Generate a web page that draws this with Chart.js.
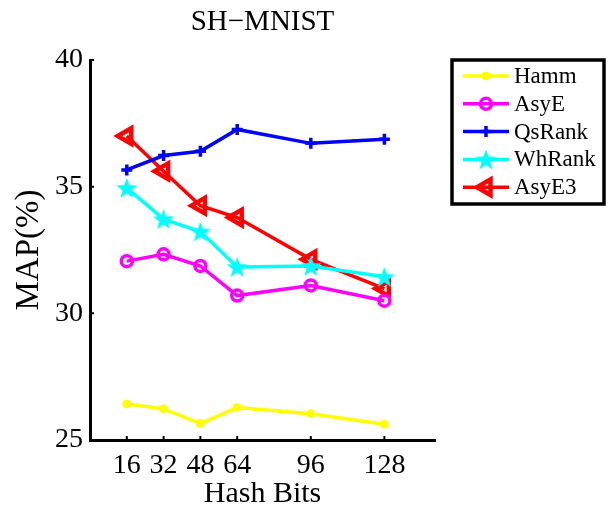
<!DOCTYPE html>
<html>
<head>
<meta charset="utf-8">
<script src="https://cdn.jsdelivr.net/npm/chart.js@4/dist/chart.umd.min.js"></script>
<style>
  html, body { margin: 0; padding: 0; background: #fff; }
  #wrap { width: 611px; height: 506px; }
</style>
</head>
<body>
<div id="wrap"><canvas id="c"></canvas></div>
<script>
// values
var hashBits = [16, 32, 48, 64, 96, 128];
var hamm   = [26.42, 26.23, 25.65, 26.28, 26.04, 25.62];
var asyE   = [32.06, 32.33, 31.87, 30.70, 31.10, 30.50];
var qsRank = [35.66, 36.23, 36.40, 37.26, 36.71, 36.87];
var whRank = [34.95, 33.72, 33.23, 31.83, 31.87, 31.44];
var asyE3  = [37.00, 35.61, 34.25, 33.78, 32.13, 30.98];
var yTicks = [25, 30, 35, 40];

var serif = "'Liberation Serif', 'Times New Roman', serif";

// filled five-point star, matlab 'p' style
function makeStar(color, size) {
    var cv = document.createElement('canvas');
    cv.width = size; cv.height = size;
    var g = cv.getContext('2d');
    var cx = size / 2, cy = size / 2 + 1, ro = size / 2, ri = ro * 0.42;
    g.beginPath();
    for (var i = 0; i < 10; i++) {
        var r = i % 2 ? ri : ro;
        var a = -Math.PI / 2 + i * Math.PI / 5;
        g.lineTo(cx + r * Math.cos(a), cy + r * Math.sin(a));
    }
    g.closePath();
    g.fillStyle = color;
    g.fill();
    return cv;
}
var starImg = makeStar('#00FFFF', 22);

function pts(vals) {
    return vals.map(function(v, i) { return { x: hashBits[i], y: v }; });
}

// box legend on the right with line samples
var boxLegend = {
    id: 'boxLegend',
    afterDraw: function(chart) {
        var ctx = chart.ctx;
        ctx.save();
        ctx.lineWidth = 3.5;
        ctx.strokeStyle = '#000';
        ctx.strokeRect(452, 60, 152, 144);
        var y0 = 76, dy = 27.8;
        chart.data.datasets.forEach(function(ds, i) {
            var y = y0 + i * dy;
            ctx.strokeStyle = ds.borderColor;
            ctx.lineWidth = 3.5;
            ctx.beginPath();
            ctx.moveTo(463, y); ctx.lineTo(509, y);
            ctx.stroke();
            var ps = ds.pointStyle;
            if (ps instanceof HTMLCanvasElement) {
                ctx.drawImage(ps, 486 - ps.width / 2, y - ps.height / 2);
            } else {
                ctx.fillStyle = ds.pointBackgroundColor;
                ctx.lineWidth = ds.pointBorderWidth;
                Chart.helpers.drawPoint(ctx, {
                    pointStyle: ps,
                    radius: ds.pointRadius,
                    rotation: ds.pointRotation || 0,
                    borderWidth: ds.pointBorderWidth
                }, 486, y);
            }
            ctx.fillStyle = '#000';
            ctx.font = '23px ' + serif;
            ctx.textBaseline = 'middle';
            ctx.fillText(ds.label, 514, y + 1);
        });
        ctx.restore();
    }
};

// matlab style inward tick marks
var innerTicks = {
    id: 'innerTicks',
    afterDraw: function(chart) {
        var ctx = chart.ctx, a = chart.chartArea;
        var xs = chart.scales.x, ys = chart.scales.y;
        ctx.save();
        ctx.strokeStyle = '#000';
        ctx.lineWidth = 2;
        ctx.beginPath();
        hashBits.forEach(function(b) {
            var px = xs.getPixelForValue(b);
            ctx.moveTo(px, a.bottom); ctx.lineTo(px, a.bottom - 4);
        });
        yTicks.forEach(function(t) {
            var py = ys.getPixelForValue(t);
            ctx.moveTo(a.left, py); ctx.lineTo(a.left + 4, py);
        });
        ctx.stroke();
        ctx.restore();
    }
};

new Chart(document.getElementById('c'), {
    type: 'line',
    data: {
        datasets: [
            {
                label: 'Hamm', data: pts(hamm),
                borderColor: '#FFFF00', backgroundColor: '#FFFF00', borderWidth: 3.5,
                pointStyle: 'circle', pointRadius: 4, pointBorderWidth: 1,
                pointBackgroundColor: '#FFFF00', pointBorderColor: '#FFFF00'
            },
            {
                label: 'AsyE', data: pts(asyE),
                borderColor: '#FF00FF', backgroundColor: '#FF00FF', borderWidth: 3.5,
                pointStyle: 'circle', pointRadius: 5.5, pointBorderWidth: 3.5,
                pointBackgroundColor: 'rgba(0,0,0,0)', pointBorderColor: '#FF00FF'
            },
            {
                label: 'QsRank', data: pts(qsRank),
                borderColor: '#0000FF', backgroundColor: '#0000FF', borderWidth: 3.5,
                pointStyle: 'cross', pointRadius: 5.5, pointBorderWidth: 3.5,
                pointBackgroundColor: '#0000FF', pointBorderColor: '#0000FF'
            },
            {
                label: 'WhRank', data: pts(whRank),
                borderColor: '#00FFFF', backgroundColor: '#00FFFF', borderWidth: 3.5,
                pointStyle: starImg, pointRadius: 10,
                pointBackgroundColor: '#00FFFF', pointBorderColor: '#00FFFF'
            },
            {
                label: 'AsyE3', data: pts(asyE3),
                borderColor: '#FF0000', backgroundColor: '#FF0000', borderWidth: 3.5,
                pointStyle: 'triangle', pointRotation: -90, pointRadius: 9, pointBorderWidth: 4.5,
                pointBackgroundColor: 'rgba(0,0,0,0)', pointBorderColor: '#FF0000'
            }
        ]
    },
    options: {
        responsive: true,
        maintainAspectRatio: false,
        animation: false,
        devicePixelRatio: 1,
        layout: { padding: { left: 0, right: 176, top: 0, bottom: 0 } },
        plugins: {
            legend: { display: false },
            tooltip: { enabled: false },
            title: {
                display: true,
                text: 'SH\u2212MNIST',
                color: '#000',
                fullSize: false,
                font: { family: serif, size: 29, weight: 'normal', lineHeight: 1.2 },
                padding: { top: 5, bottom: 20.2 }
            }
        },
        scales: {
            x: {
                type: 'linear',
                min: 0, max: 150,
                afterBuildTicks: function(s) {
                    s.ticks = hashBits.map(function(v) { return { value: v }; });
                },
                afterFit: function(s) { s.height = 66; },
                grid: { display: false, drawTicks: false },
                border: { display: true, color: '#000', width: 3 },
                ticks: {
                    color: '#000', padding: 9, maxRotation: 0, autoSkip: false,
                    font: { family: serif, size: 28 }
                },
                title: {
                    display: true, text: 'Hash Bits', color: '#000',
                    font: { family: serif, size: 30, lineHeight: 1 },
                    padding: { top: 0, bottom: -3.5 }
                }
            },
            y: {
                min: 25, max: 40,
                afterBuildTicks: function(s) {
                    s.ticks = yTicks.map(function(v) { return { value: v }; });
                },
                afterFit: function(s) { s.width = 90; },
                grid: { display: false, drawTicks: false },
                border: { display: true, color: '#000', width: 3 },
                ticks: {
                    color: '#000', padding: 7,
                    font: { family: serif, size: 28 }
                },
                title: {
                    display: true, text: 'MAP(%)', color: '#000',
                    font: { family: serif, size: 33 },
                    padding: { top: 9.7, bottom: 0 }
                }
            }
        }
    },
    plugins: [innerTicks, boxLegend]
});
</script>
</body>
</html>
